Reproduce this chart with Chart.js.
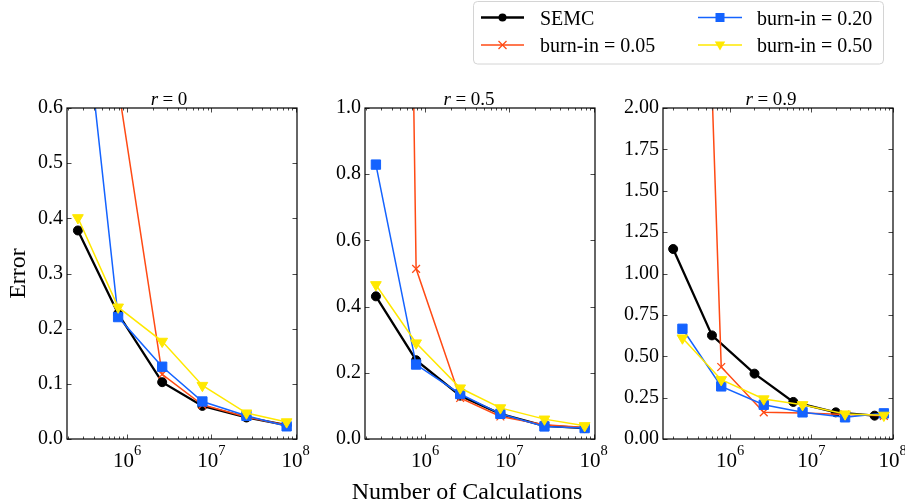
<!DOCTYPE html>
<html>
<head>
<meta charset="utf-8">
<script src="https://cdn.jsdelivr.net/npm/chart.js@4.4.1/dist/chart.umd.min.js"></script>
<style>
  html, body { margin: 0; padding: 0; background: #fff; overflow: hidden; }
  #wrap { position: relative; width: 905px; height: 502px; }
  canvas { position: absolute; left: 0; top: 0; }
  #legend { position: absolute; left: 0; top: 0; pointer-events: none; }
</style>
</head>
<body>
<div id="wrap">
  <canvas id="c0" width="905" height="502"></canvas>
  <canvas id="c1" width="905" height="502"></canvas>
  <canvas id="c2" width="905" height="502"></canvas>
  <svg id="legend" width="905" height="70" xmlns="http://www.w3.org/2000/svg"
       font-family="'Liberation Serif', 'Times New Roman', serif" font-size="20">
    <rect x="473.5" y="1.5" width="410" height="62.5" rx="4" ry="4" fill="#ffffff" stroke="#d4d4d4" stroke-width="1"/>
    <line x1="481" y1="17.5" x2="524" y2="17.5" stroke="#000000" stroke-width="2.3"/>
    <circle cx="502.5" cy="17.5" r="4" fill="#000000"/>
    <text x="540" y="24.5" fill="#000">SEMC</text>
    <line x1="481" y1="45" x2="524" y2="45" stroke="#ff4a14" stroke-width="1.5"/>
    <line x1="498.5" y1="41" x2="506.5" y2="49" stroke="#ff4a14" stroke-width="1.3"/>
    <line x1="498.5" y1="49" x2="506.5" y2="41" stroke="#ff4a14" stroke-width="1.3"/>
    <text x="540" y="52" fill="#000">burn-in = 0.05</text>
    <line x1="698" y1="17.5" x2="742" y2="17.5" stroke="#1463ff" stroke-width="1.5"/>
    <rect x="715.5" y="13" width="9" height="9" fill="#1463ff"/>
    <text x="757" y="24.5" fill="#000">burn-in = 0.20</text>
    <line x1="698" y1="45" x2="742" y2="45" stroke="#ffe800" stroke-width="1.5"/>
    <polygon points="714.8,41.5 725.2,41.5 720,50.5" fill="#ffe800"/>
    <text x="757" y="52" fill="#000">burn-in = 0.50</text>
  </svg>
</div>
<script>
// ---------------- data ----------------
const xBurn   = [2.6e5, 7.8e5, 2.6e6, 7.8e6, 2.6e7, 7.8e7];
const xSemc   = [2.6e5, 7.8e5, 2.6e6, 7.8e6, 2.6e7, 7.8e7];
const xSemc09 = [2.0e5, 6.0e5, 2.0e6, 6.0e6, 2.0e7, 6.0e7];

const panelTitles = ['0', '0.5', '0.9'];

// r = 0
const semc_r0  = [0.378, 0.227, 0.103, 0.060, 0.039, 0.025];
const b005_r0  = [3.000, 0.640, 0.117, 0.062, 0.040, 0.025];
const b020_r0  = [0.890, 0.221, 0.131, 0.068, 0.042, 0.023];
const b050_r0  = [0.401, 0.239, 0.177, 0.097, 0.047, 0.031];
// r = 0.5
const semc_r5  = [0.431, 0.238, 0.131, 0.076, 0.040, 0.033];
const b005_r5  = [9.000, 0.514, 0.124, 0.068, 0.043, 0.035];
const b020_r5  = [0.829, 0.225, 0.136, 0.076, 0.038, 0.033];
const b050_r5  = [0.466, 0.290, 0.154, 0.094, 0.060, 0.040];
// r = 0.9
const semc_r9  = [1.148, 0.626, 0.395, 0.224, 0.161, 0.141];
const b005_r9  = [7.500, 0.435, 0.161, 0.157, 0.148, 0.140];
const b020_r9  = [0.666, 0.318, 0.207, 0.161, 0.131, 0.155];
const b050_r9  = [0.610, 0.358, 0.242, 0.207, 0.151, 0.143];

const yMaxes   = [0.6, 1.0, 2.0];
const ySteps   = [0.1, 0.2, 0.25];
const yDecs    = [1, 1, 2];
const xMins    = [1.93e5, 1.93e5, 1.50e5];
const xMaxs    = [1.035e8, 1.035e8, 1.01e8];
const xMajors  = [1e6, 1e7, 1e8];

// ---------------- style / layout ----------------
const FONT = "'Liberation Serif', 'Times New Roman', serif";
Chart.defaults.font.family = FONT;
const COL = { semc: '#000000', b005: '#ff4a14', b020: '#1463ff', b050: '#ffe800' };
const areaL = [67, 365, 663], areaR = [297, 595, 893];
const AREA_TOP = 108, XAXIS_H = 63, YAXIS_W = 67;
const titleCX = [169, 469, 771];

function pts(xs, ys) { return xs.map((x, i) => ({ x: x, y: ys[i] })); }

function datasets(sx, s, a, b, c) {
  return [
    { label: 'SEMC', data: pts(sx, s), borderColor: COL.semc, backgroundColor: COL.semc,
      borderWidth: 2.3, pointStyle: 'circle', pointRadius: 4.5, pointBorderWidth: 1, order: 4, clip: 0 },
    { label: 'burn-in = 0.05', data: pts(xBurn, a), borderColor: COL.b005, backgroundColor: COL.b005,
      borderWidth: 1.5, pointStyle: 'crossRot', pointRadius: 5.5, pointBorderWidth: 1.3, order: 3, clip: 0 },
    { label: 'burn-in = 0.20', data: pts(xBurn, b), borderColor: COL.b020, backgroundColor: COL.b020,
      borderWidth: 1.5, pointStyle: 'rect', pointRadius: 6.6, pointBorderWidth: 1, order: 2, clip: 0 },
    { label: 'burn-in = 0.50', data: pts(xBurn, c), borderColor: COL.b050, backgroundColor: COL.b050,
      borderWidth: 1.5, pointStyle: 'triangle', pointRotation: 180, pointRadius: 6.2, pointBorderWidth: 1, order: 1, clip: 0 }
  ];
}

const framePlugin = {
  id: 'frame',
  afterDraw(chart, args, opts) {
    const ctx = chart.ctx, a = chart.chartArea;
    const xs = chart.scales.x, ys = chart.scales.y;
    ctx.save();
    // inward tick marks on all four sides
    ctx.strokeStyle = '#4a4a4a';
    ctx.lineWidth = 1;
    ctx.beginPath();
    for (let e = 5; e <= 8; e++) {
      for (let k = 1; k <= 9; k++) {
        const v = k * Math.pow(10, e);
        if (v < xs.min || v > xs.max) continue;
        const px = Math.round(xs.getPixelForValue(v)) + 0.5;
        const len = k === 1 ? 4.5 : 2.5;
        ctx.moveTo(px, a.bottom); ctx.lineTo(px, a.bottom - len);
        ctx.moveTo(px, a.top); ctx.lineTo(px, a.top + len);
      }
    }
    ys.ticks.forEach(t => {
      const py = Math.round(ys.getPixelForValue(t.value)) + 0.5;
      ctx.moveTo(a.left, py); ctx.lineTo(a.left + 4.5, py);
      ctx.moveTo(a.right, py); ctx.lineTo(a.right - 4.5, py);
    });
    ctx.stroke();
    // frame
    ctx.strokeStyle = '#000';
    ctx.lineWidth = 1.2;
    ctx.strokeRect(a.left, a.top, a.right - a.left, a.bottom - a.top);
    // x tick labels 10^n
    ctx.fillStyle = '#000';
    ctx.textBaseline = 'alphabetic';
    ctx.textAlign = 'left';
    xMajors.forEach(v => {
      const px = xs.getPixelForValue(v);
      const exp = String(Math.round(Math.log10(v)));
      ctx.font = "21px " + FONT;
      const w1 = ctx.measureText('10').width;
      ctx.font = "14.5px " + FONT;
      const w2 = ctx.measureText(exp).width;
      const x0 = px - (w1 + w2) / 2;
      ctx.font = "21px " + FONT;
      ctx.fillText('10', x0, a.bottom + 27.5);
      ctx.font = "14.5px " + FONT;
      ctx.fillText(exp, x0 + w1, a.bottom + 16);
    });
    // panel title  r = value
    const o = opts || {};
    if (o.rval !== undefined) {
      const parts = [['italic 19px ' + FONT, 'r'], ['19px ' + FONT, '='], ['19px ' + FONT, o.rval]];
      const gap = 4.5;
      let total = 0;
      const ws = parts.map(p => { ctx.font = p[0]; const w = ctx.measureText(p[1]).width; total += w; return w; });
      total += gap * 2;
      let x = o.cx - total / 2;
      parts.forEach((p, i) => {
        ctx.font = p[0];
        ctx.fillText(p[1], x, 105);
        x += ws[i] + gap;
      });
    }
    if (o.xlabel) {
      ctx.font = "24px " + FONT;
      ctx.textAlign = 'center';
      ctx.fillText(o.xlabel, o.xlabelX, 498.5);
    }
    ctx.restore();
  }
};

const allData = [
  [xSemc, semc_r0, b005_r0, b020_r0, b050_r0],
  [xSemc, semc_r5, b005_r5, b020_r5, b050_r5],
  [xSemc09, semc_r9, b005_r9, b020_r9, b050_r9]
];

for (let i = 0; i < 3; i++) {
  const d = allData[i];
  new Chart(document.getElementById('c' + i), {
    type: 'line',
    data: { datasets: datasets(d[0], d[1], d[2], d[3], d[4]) },
    plugins: [framePlugin],
    options: {
      responsive: false,
      animation: false,
      devicePixelRatio: 1,
      events: [],
      layout: { padding: { left: areaL[i] - YAXIS_W, right: 905 - areaR[i], top: AREA_TOP, bottom: 0 } },
      elements: { line: { tension: 0 } },
      plugins: {
        legend: { display: false },
        tooltip: { enabled: false },
        title: { display: false },
        frame: {
          rval: panelTitles[i], cx: titleCX[i],
          xlabel: i === 1 ? 'Number of Calculations' : null, xlabelX: 467
        }
      },
      scales: {
        x: {
          type: 'logarithmic', min: xMins[i], max: xMaxs[i],
          ticks: { display: false },
          grid: { display: false, drawTicks: false },
          border: { display: false },
          afterFit: s => { s.height = XAXIS_H; s.paddingLeft = 0; s.paddingRight = 0; }
        },
        y: {
          type: 'linear', min: 0, max: yMaxes[i],
          ticks: {
            stepSize: ySteps[i], padding: 4, color: '#000',
            font: { size: 20, family: FONT },
            callback: v => Number(v).toFixed(yDecs[i])
          },
          grid: { display: false, drawTicks: false },
          border: { display: false },
          title: {
            display: i === 0, text: 'Error', color: '#000',
            font: { size: 24, family: FONT, lineHeight: 1 },
            padding: { top: 7, bottom: 0 }
          },
          afterFit: s => { s.width = YAXIS_W; s.paddingTop = 0; s.paddingBottom = 0; }
        }
      }
    }
  });
}
</script>
</body>
</html>
